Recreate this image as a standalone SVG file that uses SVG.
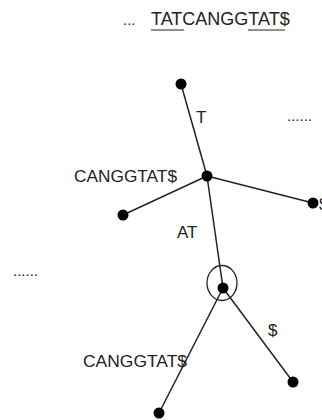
<svg xmlns="http://www.w3.org/2000/svg" width="322" height="420" viewBox="0 0 322 420">
<style>
text{font-family:"Liberation Sans",Arial,sans-serif;fill:#222}
.lbl{font-size:17px}
.dots{font-size:15px}
.edge{stroke:#222;stroke-width:1.5;fill:none}
.node{fill:#000}
</style>
<rect width="322" height="420" fill="#fff"/>
<g id="title">
<text class="dots" x="123" y="25">...</text>
<text x="151" y="25" style="font-size:18px">TATCANGGTAT$</text>
<line x1="151" y1="30" x2="184" y2="30" stroke="#222" stroke-width="1.2"/>
<line x1="248" y1="30" x2="285" y2="30" stroke="#222" stroke-width="1.2"/>
</g>
<g id="connectors">
<line class="edge" x1="181" y1="84" x2="207" y2="176"/>
<line class="edge" x1="207" y1="176" x2="123" y2="215"/>
<line class="edge" x1="207" y1="176" x2="313" y2="203"/>
<line class="edge" x1="207" y1="176" x2="223" y2="288"/>
<line class="edge" x1="223" y1="288" x2="159" y2="413"/>
<line class="edge" x1="223" y1="288" x2="293" y2="382"/>
</g>
<g id="labels">
<text class="lbl" x="196" y="123">T</text>
<text class="lbl" x="74" y="182" textLength="103" lengthAdjust="spacingAndGlyphs">CANGGTAT$</text>
<text class="lbl" x="177" y="238">AT</text>
<text class="lbl" x="268" y="336">$</text>
<text class="lbl" x="83" y="367" textLength="104" lengthAdjust="spacingAndGlyphs">CANGGTAT$</text>
<text class="lbl" x="319" y="210">$</text>
<text class="dots" x="287" y="121" textLength="25">......</text>
<text class="dots" x="13" y="276" textLength="25">......</text>
</g>
<g id="n-top"><circle class="node" cx="181" cy="84" r="5.5"/></g>
<g id="n-mid"><circle class="node" cx="207" cy="176" r="5.5"/></g>
<g id="n-left"><circle class="node" cx="123" cy="215" r="5.5"/></g>
<g id="n-right"><circle class="node" cx="313" cy="203" r="5.5"/></g>
<g id="n-circled"><ellipse cx="222" cy="283" rx="15" ry="17.5" fill="none" stroke="#222" stroke-width="1.3"/><circle class="node" cx="223" cy="288" r="5.5"/></g>
<g id="n-bl"><circle class="node" cx="159" cy="413" r="5.5"/></g>
<g id="n-br"><circle class="node" cx="293" cy="382" r="5.5"/></g>
</svg>
